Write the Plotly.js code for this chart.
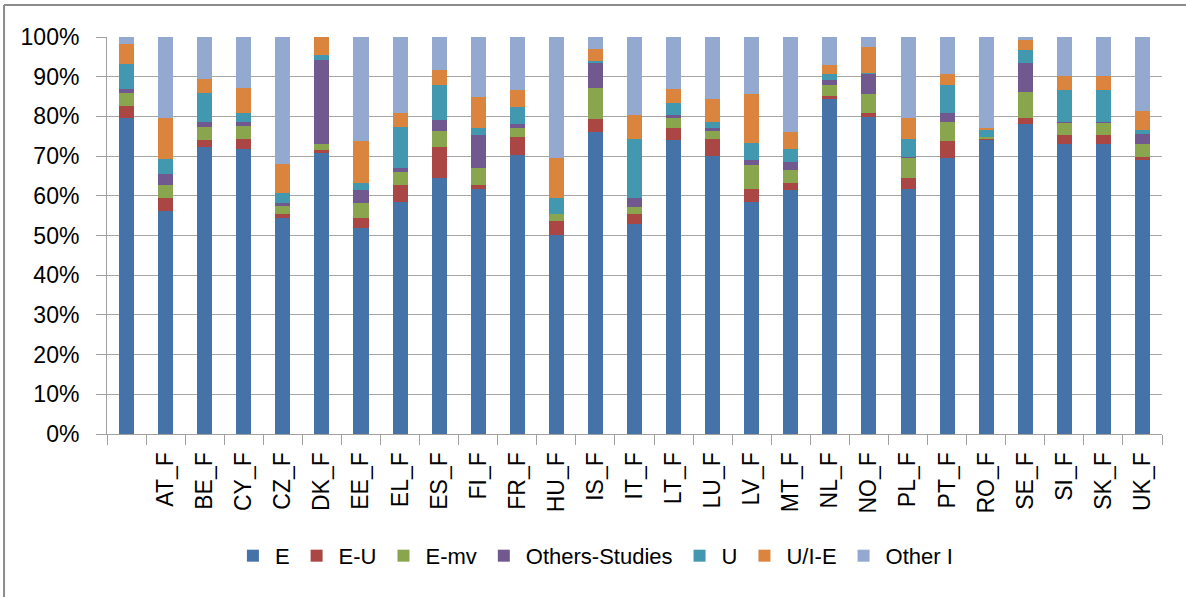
<!DOCTYPE html>
<html>
<head>
<meta charset="utf-8">
<script src="https://cdn.plot.ly/plotly-3.0.1.min.js"></script>
<style>html,body{margin:0;padding:0;background:#fff;}#chart{width:1186px;height:597px;}</style>
</head>
<body>
<div id="chart"></div>
<script>
var categories = [' ','AT_F','BE_F','CY_F','CZ_F','DK_F','EE_F','EL_F','ES_F','FI_F','FR_F','HU_F','IS_F','IT_F','LT_F','LU_F','LV_F','MT_F','NL_F','NO_F','PL_F','PT_F','RO_F','SE_F','SI_F','SK_F','UK_F'];
var E      = [79.7,56.2,72.4,71.7,54.5,70.7,51.9,58.5,64.5,61.8,70.4,50.2,76.0,52.9,74.1,70.0,58.5,61.5,84.5,79.9,61.8,69.4,74.1,78.0,73.0,73.0,69.1];
var EU     = [2.9,3.3,1.7,2.7,1.0,0.8,2.6,4.3,7.9,1.0,4.3,3.4,3.3,2.6,2.9,4.4,3.3,1.6,0.7,1.0,2.7,4.3,0.3,1.7,2.3,2.3,0.7];
var Emv    = [3.3,3.2,3.2,3.3,2.0,1.5,3.7,3.3,3.9,4.3,2.3,1.9,7.9,1.7,2.7,1.9,6.0,3.3,2.7,4.7,4.9,5.0,0.3,6.5,3.0,3.0,3.2];
var OthersStudies = [1.0,2.7,1.4,1.0,0.7,21.2,3.3,1.0,2.7,8.2,1.0,0.0,6.3,2.3,0.6,0.7,1.3,2.0,1.3,5.0,0.4,2.2,0.0,7.3,0.4,0.4,2.6];
var U      = [6.3,3.9,7.2,2.2,2.6,1.3,1.6,10.2,8.9,1.7,4.3,4.0,0.4,14.9,3.0,1.7,4.3,3.3,1.4,0.3,4.6,7.0,2.0,3.3,7.9,7.9,1.1];
var UIE    = [5.0,10.4,3.6,6.3,7.3,4.5,10.6,3.6,3.9,7.9,4.3,9.9,3.0,5.9,3.6,5.8,12.2,4.3,2.3,6.6,5.3,2.7,0.3,2.4,3.7,3.7,4.6];
var OtherI = [1.8,20.3,10.5,12.8,31.9,0.0,26.3,19.1,8.2,15.1,13.4,30.6,3.1,19.7,13.1,15.5,14.4,24.0,7.1,2.5,20.3,9.4,23.0,0.8,9.7,9.7,18.7];

var seriesNames = ['E','E-U','E-mv','Others-Studies','U','U/I-E','Other I'];
var seriesData = [E, EU, Emv, OthersStudies, U, UIE, OtherI];
var colors = ['#4572A7','#AA4643','#89A54E','#71588F','#4198AF','#DB843D','#93A9CF'];

var traces = seriesNames.map(function(n,i){
  return {type:'bar', name:n, x:categories, y:seriesData[i],
    marker:{color:colors[i], line:{width:0}}, hoverinfo:'x+y+name'};
});

var FONT = '"Liberation Sans", Arial, sans-serif';
var layout = {
  width:1186, height:597,
  margin:{l:107, r:24, t:37, b:163},
  barmode:'stack', barnorm:'percent', bargap:0.615,
  paper_bgcolor:'#fff', plot_bgcolor:'#fff',
  font:{family:FONT, color:'#000', size:22},
  showlegend:true,
  legend:{orientation:'h', x:0.462, xanchor:'center', y:-0.307, yanchor:'middle', itemwidth:34,
    font:{family:FONT, size:22, color:'#000'}, traceorder:'normal', itemclick:false},
  xaxis:{type:'category', tickson:'boundaries', ticks:'outside', ticklen:10, tickcolor:'#a0a0a0',
    tickangle:-90, showline:true, linecolor:'#a0a0a0', linewidth:1, showgrid:false,
    tickfont:{family:FONT, size:23, color:'#000'}, ticklabelstandoff:8, fixedrange:true},
  yaxis:{range:[0,100], dtick:10, ticksuffix:'%', ticks:'outside', ticklen:10, tickcolor:'#a0a0a0',
    showline:true, linecolor:'#a0a0a0', linewidth:1, showgrid:true, gridcolor:'#a6a6a6', gridwidth:1,
    zeroline:false, tickfont:{family:FONT, size:23, color:'#000'}, ticklabelstandoff:12, fixedrange:true},
  shapes:[
    {type:'line', xref:'paper', yref:'paper', x0:-0.0976, x1:1.03, y0:1.0806, y1:1.0806, line:{color:'#8c8c8c', width:2}},
    {type:'line', xref:'paper', yref:'paper', x0:-0.0976, x1:-0.0976, y0:1.0806, y1:-0.42, line:{color:'#8c8c8c', width:2}}
  ]
};
Plotly.newPlot('chart', traces, layout, {displayModeBar:false, staticPlot:true});
</script>
</body>
</html>
